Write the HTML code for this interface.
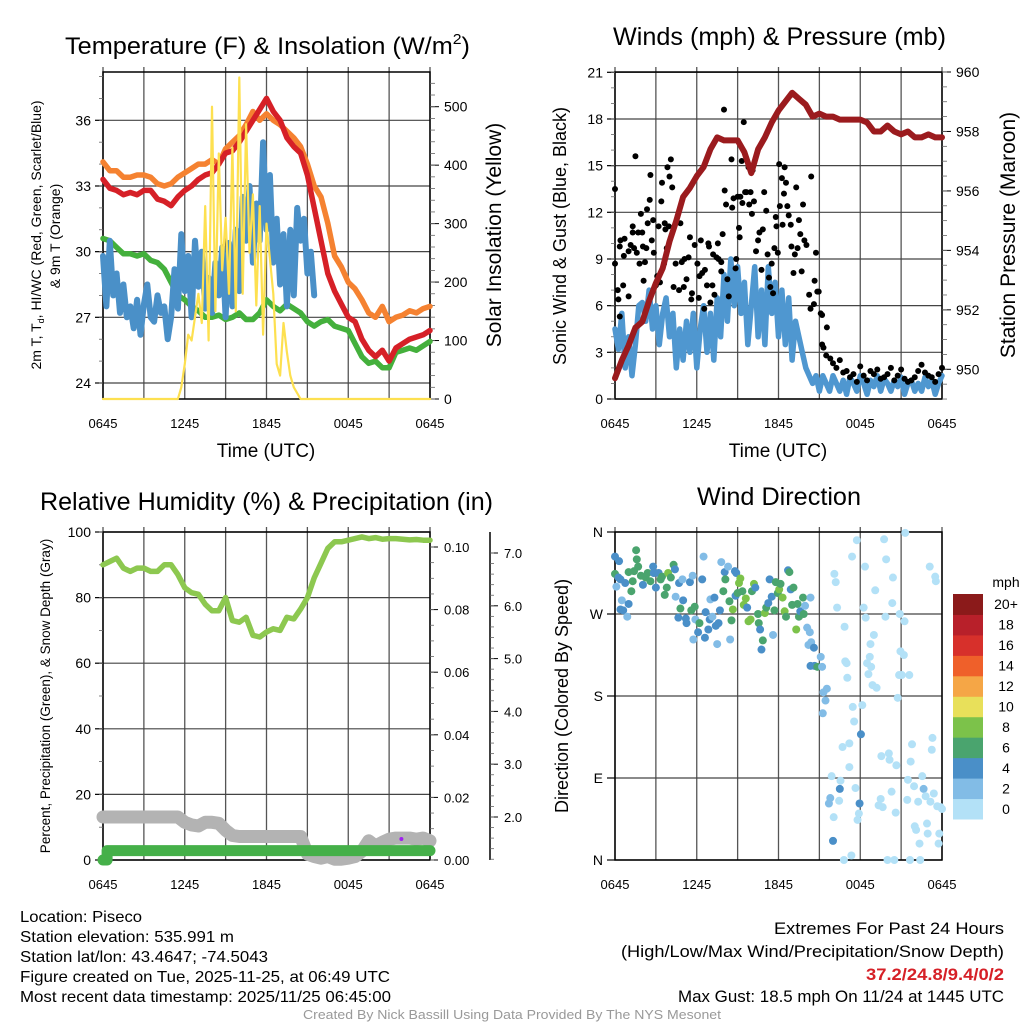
<!DOCTYPE html>
<html><head><meta charset="utf-8"><style>
html,body{margin:0;padding:0;background:#fff}
svg{display:block;font-family:"Liberation Sans",sans-serif}
</style></head><body>
<svg id="fig" width="1024" height="1024" viewBox="0 0 1024 1024" xmlns="http://www.w3.org/2000/svg">
<rect width="1024" height="1024" fill="#fff"/>
<g id="g"></g>
<text x="65" y="54" font-size="24" textLength="405" lengthAdjust="spacingAndGlyphs">Temperature (F) &amp; Insolation (W/m<tspan font-size="15" dy="-10">2</tspan><tspan dy="10">)</tspan></text>
<text x="613" y="45" font-size="25" textLength="333" lengthAdjust="spacingAndGlyphs">Winds (mph) &amp; Pressure (mb)</text>
<text x="40" y="510" font-size="25" textLength="453" lengthAdjust="spacingAndGlyphs">Relative Humidity (%) &amp; Precipitation (in)</text>
<text x="697" y="505" font-size="25" textLength="164" lengthAdjust="spacingAndGlyphs">Wind Direction</text>
<text x="266" y="457" font-size="19" text-anchor="middle">Time (UTC)</text>
<text x="778" y="457" font-size="19" text-anchor="middle">Time (UTC)</text>
<text transform="translate(41,235) rotate(-90)" font-size="14" text-anchor="middle">2m T, T<tspan font-size="9" dy="3">d</tspan><tspan dy="-3">, HI/WC (Red, Green, Scarlet/Blue)</tspan></text>
<text transform="translate(60,236) rotate(-90)" font-size="14" text-anchor="middle">&amp; 9m T (Orange)</text>
<text transform="translate(501,235) rotate(-90)" font-size="21" text-anchor="middle">Solar Insolation (Yellow)</text>
<text transform="translate(566,236) rotate(-90)" font-size="18" text-anchor="middle">Sonic Wind &amp; Gust (Blue, Black)</text>
<text transform="translate(1015,235) rotate(-90)" font-size="21" text-anchor="middle">Station Pressure (Maroon)</text>
<text transform="translate(50,696) rotate(-90)" font-size="13.5" text-anchor="middle">Percent, Precipitation (Green), &amp; Snow Depth (Gray)</text>
<text transform="translate(568,696) rotate(-90)" font-size="18" text-anchor="middle">Direction (Colored By Speed)</text>
<g font-size="16">
<text x="20" y="922" textLength="122" lengthAdjust="spacingAndGlyphs">Location: Piseco</text>
<text x="20" y="942" textLength="214" lengthAdjust="spacingAndGlyphs">Station elevation: 535.991 m</text>
<text x="20" y="962" textLength="248" lengthAdjust="spacingAndGlyphs">Station lat/lon: 43.4647; -74.5043</text>
<text x="20" y="982" textLength="370" lengthAdjust="spacingAndGlyphs">Figure created on Tue, 2025-11-25, at 06:49 UTC</text>
<text x="20" y="1002" textLength="371" lengthAdjust="spacingAndGlyphs">Most recent data timestamp: 2025/11/25 06:45:00</text>
</g>
<g font-size="17">
<text x="774" y="934" textLength="230" lengthAdjust="spacingAndGlyphs">Extremes For Past 24 Hours</text>
<text x="621" y="957" textLength="383" lengthAdjust="spacingAndGlyphs">(High/Low/Max Wind/Precipitation/Snow Depth)</text>
<text x="866" y="980" textLength="138" lengthAdjust="spacingAndGlyphs" font-weight="bold" fill="#d62027">37.2/24.8/9.4/0/2</text>
<text x="678" y="1002" textLength="326" lengthAdjust="spacingAndGlyphs">Max Gust: 18.5 mph On 11/24 at 1445 UTC</text>
</g>
<text x="303" y="1019" font-size="13" textLength="418" lengthAdjust="spacingAndGlyphs" fill="#999">Created By Nick Bassill Using Data Provided By The NYS Mesonet</text>
</svg>
<script>
// ---------- data ----------
const xTickLabels = ["0645","1245","1845","0045","0645"];
const tempTicks = [24,27,30,33,36];
const solarTicks = [0,100,200,300,400,500];
const windTicks = [0,3,6,9,12,15,18,21];
const presTicks = [950,952,954,956,958,960];
const rhTicks = [0,20,40,60,80,100];
const precipTicks = ["0.00","0.02","0.04","0.06","0.08","0.10"];
const snowTicks = ["2.0","3.0","4.0","5.0","6.0","7.0"];
const dirLabels = ["N","E","S","W","N"];
const speedBins = ["0","2","4","6","8","10","12","14","16","18","20+"];
const speedColors = ["#b3e1f7","#82bce6","#4a8fc8","#4aa46e","#7cc24a","#e8e05a","#f5a646","#ef602a","#d7302b","#b8202a","#8b1a1a"];

const tempT = [33.3,32.9,32.8,32.6,32.7,32.6,32.8,32.8,32.4,32.3,32.1,32.5,32.8,33.0,33.3,33.5,33.6,34.0,34.5,34.6,35.0,35.5,36.0,36.5,37.0,36.4,36.0,35.2,34.8,34.5,33.5,32.0,30.5,29.0,28.2,27.6,27.0,26.8,26.0,25.5,25.2,25.5,25.0,25.6,25.8,26.0,26.1,26.2,26.4];
const temp9m = [34.1,33.7,33.7,33.4,33.4,33.5,33.5,33.4,33.1,33.0,33.1,33.4,33.6,33.8,34.0,34.0,34.2,34.0,34.7,35.0,35.3,35.8,36.4,36.0,36.3,36.0,35.8,35.5,35.2,34.8,34.0,33.0,32.5,31.3,29.8,29.3,28.6,28.3,27.8,27.2,27.0,27.5,26.8,27.0,27.1,27.3,27.2,27.4,27.5];
const dewT = [30.6,30.5,30.2,29.9,29.9,29.8,29.9,29.6,29.5,29.2,28.6,28.0,27.8,27.5,27.3,27.0,27.0,27.1,26.9,27.0,27.2,26.9,26.9,27.2,27.8,27.5,27.3,27.6,27.4,27.2,26.8,26.6,26.8,26.9,26.6,26.5,26.4,25.8,25.2,24.9,25.0,24.7,24.7,25.4,25.5,25.6,25.5,25.7,25.9];
const windChill = [29.8,27.5,30.5,28.0,29.0,27.2,28.5,27.0,27.5,26.5,27.8,26.2,27.6,28.5,27.0,26.8,28.0,27.2,27.5,26.0,27.0,29.2,27.4,30.8,28.2,29.8,27.0,30.5,28.4,30.0,27.4,28.8,27.2,29.5,28.0,30.2,27.0,30.4,27.5,31.0,28.2,32.5,30.5,33.0,29.5,32.2,30.5,35.0,31.0,33.5,29.5,31.5,28.5,30.8,27.5,31.0,28.0,32.0,30.5,31.5,29.0,30.0,28.0];
const solarHours = [0,5.5,5.75,6,6.25,6.5,6.75,7,7.25,7.5,7.75,8,8.25,8.5,8.75,9,9.25,9.5,9.75,10,10.25,10.5,10.75,11,11.25,11.5,11.75,12,12.25,12.5,12.75,13,13.25,13.5,13.75,14,14.5,24];
const solarVals = [0,0,20,60,110,100,140,180,130,330,100,500,150,420,220,310,180,430,150,550,180,470,250,350,160,330,110,300,240,180,60,40,130,80,40,20,0,0];

const pressure = [949.7,950.3,950.8,951.4,951.6,952.3,952.9,953.4,954.3,955.0,955.8,956.1,956.5,956.8,957.4,957.8,957.7,957.7,957.7,957.3,956.6,957.4,957.8,958.3,958.7,959.0,959.3,959.1,958.9,958.5,958.6,958.5,958.5,958.4,958.4,958.4,958.4,958.3,958.0,958.0,958.2,958.0,957.9,958.0,957.8,957.8,957.9,957.8,957.8];
const sonicWind = [4.5,3.2,5.5,2.0,4.0,1.5,3.5,6.0,6.2, 5.0,7.0,4.5,6.0,3.5,5.5,6.5,4.0, 5.5,2.0,4.5,2.5,5.0,3.0,5.5,2.0, 4.5,6.0,3.0,5.5,2.5,6.5,4.0,8.0, 5.0,9.0,6.0,8.5,5.5,7.5,3.5,6.0, 8.5,4.0,7.0,3.5,8.5,5.5,7.5,4.0, 7.0,3.5,6.5,2.5,5.0,4.0,3.0,2.0, 1.5,1.0,1.5,0.5,1.5,1.0,0.5,1.5, 1.0,0.5,1.2,0.3,1.4,1.0,0.5,1.5, 1.0,0.3,1.2,0.8,1.5,0.5,1.3,1.0, 0.5,1.2,0.8,1.4,0.3,1.0,1.2,0.5, 1.0,0.5,1.4,0.8,1.2,0.3,1.0,1.5];
const gustHours = [0,0,0.2,0.25,0.35,0.35,0.4,0.7,0.6,0.65,1.0,1.0,1.15,1.3,1.3,1.4,1.5,1.6,1.7,1.8,1.9,2.0,2.05,2.1,2.2,2.3,2.35,2.4,2.55,2.6,2.7,2.8,2.85,3.0,3.1,3.2,3.3,3.4,3.45,3.6,3.65,3.7,3.8,3.85,3.95,4.0,4.1,4.2,4.3,4.45,4.7,4.8,4.9,5.05,5.1,5.25,5.4,5.5,5.6,5.65,5.85,6.05,6.15,6.2,6.3,6.4,6.55,6.6,6.75,6.85,6.9,7.0,7.15,7.2,7.3,7.45,7.55,7.6,7.8,7.8,7.9,8.0,8.05,8.15,8.25,8.35,8.55,8.6,8.7,8.85,8.9,9.0,9.1,9.15,9.2,9.3,9.35,9.45,9.55,9.65,9.8,9.85,9.95,10.05,10.1,10.2,10.35,10.5,10.6,10.75,10.85,10.95,11.1,11.2,11.3,11.4,11.5,11.6,11.7,11.8,11.85,11.95,12.05,12.1,12.25,12.3,12.4,12.45,12.55,12.65,12.75,12.9,12.95,13.1,13.2,13.3,13.4,13.5,13.6,13.7,13.8,13.9,14.05,14.25,14.35,14.4,14.6,14.65,14.75,14.85,14.95,15.1,15.2,15.55,15.2,15.3,15.5,15.8,16,16.25,16.5,16.75,17,17.25,17.5,17.75,18,18.25,18.5,18.75,19,19.25,19.5,19.75,20,20.25,20.5,20.75,21,21.25,21.5,21.75,22,22.25,22.5,22.75,23,23.25,23.5,23.75,24];
const gustVals = [13.5,8.7,7.0,6.4,5.3,9.8,10.2,10.3,7.3,9.2,9.5,6.6,9.9,10.7,11.1,9.7,15.6,9.4,10.7,8.7,11.9,10.7,9.8,7.6,8.8,9.7,12.2,11.3,12.8,14.4,10.2,11.5,9.4,7.3,7.9,11.1,7.5,12.7,13.9,8.7,11.3,10.9,9.7,14.9,11.1,14.3,15.4,13.6,7.2,8.7,7.0,11.3,8.8,7.2,9.0,7.7,9.1,10.4,6.4,6.8,9.9,8.7,6.5,7.9,10.2,8.1,5.8,8.3,7.3,10.0,9.8,6.2,7.3,9.3,6.7,9.1,10.0,9.0,8.2,8.8,10.6,18.6,13.4,12.5,7.7,6.6,15.4,12.3,12.9,8.4,9.0,13.0,11.0,10.4,13.0,15.3,12.6,17.8,13.3,13.3,14.9,12.5,13.3,11.9,14.7,12.7,9.5,10.2,10.7,8.3,10.9,13.3,12.1,9.3,7.8,7.2,8.7,6.8,9.7,11.7,11.1,9.4,15.1,12.4,14.2,11.2,13.2,14.9,13.9,12.4,11.8,11.2,9.8,8.1,9.3,13.6,9.7,11.5,10.6,8.2,12.5,10.2,9.9,6.7,5.8,14.3,6.1,7.6,9.4,6.9,6.9,5.5,5.4,4.6,3.5,3.3,2.8,2.6,2.3,2.0,2.5,1.7,1.8,1.4,1.6,1.1,2.1,1.5,1.2,1.8,1.6,1.9,1.3,1.4,1.6,2.0,1.2,1.5,1.9,1.3,1.1,1.2,1.4,1.8,2.2,1.7,1.5,1.4,1.1,1.6,2.0];

const dirHours = [0,0.3,0,0.25,0.1,0.4,0.5,0.4,0.6,0.9,1.0,0.75,1.0,1.2,1.3,1.55,1.6,1.7,1.4,1.9,2.05,2.25,2.4,2.6,2.8,2.85,3.0,3.2,3.35,3.45,3.65,3.8,3.9,4.1,4.3,4.4,4.45,4.7,4.8,4.65,4.95,5.0,5.2,5.25,5.5,5.6,5.7,5.75,5.85,5.9,6.1,6.2,6.4,6.5,6.6,6.65,6.85,6.95,7.0,7.15,7.3,7.4,7.5,7.6,7.7,7.8,7.95,8.05,8.1,8.3,8.4,8.55,8.45,8.65,8.8,8.9,8.85,9.0,9.1,9.2,9.35,9.45,9.6,9.7,9.8,9.95,10.05,10.2,10.3,10.5,10.55,10.65,10.75,10.85,11.0,11.1,11.25,11.35,11.5,11.6,11.7,11.8,11.95,12.05,12.15,12.3,12.45,12.55,12.7,12.8,12.9,13.1,13.0,13.3,13.4,13.5,13.6,13.8,13.85,13.95,14.1,14.3,14.35,14.2,14.4,14.6,14.35,14.65,14.85,15.1,15.2,15.3,15.55,15.45,15.25,15.7,15.8,15.9,16.05,16.0,16.1,16.2,16.3,16.45,16.55,16.5,16.7,16.8,16.85,16.9,17.0,17.05,17.2,17.2,17.35,17.4,17.45,17.55,17.65,17.75,17.8,17.9,17.95,18.05,18.15,18.25,18.35,18.4,18.5,18.6,18.7,18.75,18.8,18.9,19.0,19.1,19.2,19.35,19.5,19.55,19.65,19.75,19.85,19.9,20.0,20.1,20.15,20.3,20.35,20.4,20.5,20.6,20.65,20.75,20.85,20.9,20.95,21.05,21.2,21.25,21.3,21.45,21.5,21.6,21.65,21.7,21.8,21.95,22.0,22.1,22.25,22.35,22.4,22.55,22.65,22.8,22.9,22.95,23.1,23.15,23.25,23.3,23.4,23.5,23.55,23.65,23.75,23.8,23.9,24.0];
const dirDegrees = [333,328,314,310,300,308,285,275,274,267,281,304,316,295,306,340,330,322,317,312,302,310,315,306,322,315,299,315,308,311,291,299,315,310,324,319,289,304,276,266,308,285,265,260,305,274,312,242,278,264,250,260,308,333,244,272,253,264,286,267,288,257,237,260,274,327,295,316,308,322,284,263,242,275,317,315,290,293,304,309,295,280,287,277,262,264,295,303,299,270,260,253,231,241,271,277,282,308,289,247,274,305,293,297,303,288,273,267,318,316,297,299,280,253,281,267,273,288,270,279,255,250,288,236,239,233,213,213,212,223,212,184,188,175,161,62,68,92,47,21,314,305,277,65,87,78,124,0,256,218,216,200,128,102,5,333,168,152,79,351,44,51,62,138,170,277,322,266,216,204,223,237,212,192,247,296,189,60,67,114,58,352,267,330,0,117,110,75,282,310,0,52,104,178,203,270,229,203,225,262,359,66,88,203,0,108,127,81,37,33,64,18,0,92,78,70,40,29,322,64,121,134,73,311,306,59,18,29,58,56];
const dirSpeeds = [5,5,7,5,3,5,3,5,5,3,5,5,7,7,7,7,7,7,7,7,5,7,7,7,5,5,5,5,7,7,7,7,9,7,7,5,3,5,7,5,3,5,5,5,5,7,3,3,7,3,5,7,5,3,5,5,5,5,3,3,5,5,3,5,5,3,7,5,7,3,7,7,3,9,5,5,5,7,9,9,7,9,9,5,9,9,7,9,5,7,7,5,5,7,9,7,5,5,5,3,7,7,7,9,7,9,9,7,5,7,5,7,7,9,7,7,5,7,7,3,3,3,3,3,3,5,5,5,7,3,3,3,3,3,3,3,3,1,1,5,1,1,1,1,1,5,1,1,1,1,1,1,1,1,1,1,1,1,1,1,1,1,5,5,1,1,1,1,1,1,1,1,1,1,1,1,1,1,1,1,1,1,1,1,1,1,1,1,1,1,1,1,1,1,1,1,1,1,1,1,1,1,1,1,1,1,1,1,1,1,1,1,1,1,3,1,1,1,1,1,1,1,1,1,1,1,1,1,1,1,1];

const rhVals = [90,91,92,89,88,89,89,88,88,90,90,87,83,81.5,81,78,76,76,80,73,72.5,74,68.5,68,69.5,70.5,70,74,73.5,76.5,80,86,90.5,95,97,97,97.5,98,98.5,98,98.3,97.8,98,98,97.8,97.6,97.7,97.5,97.5];
const snowVals = [2.0,2.0,2.0,2.0,2.0,2.0,2.0,2.0,2.0,2.0,2.0,2.0,1.9,1.85,1.83,1.9,1.9,1.88,1.75,1.65,1.63,1.63,1.63,1.63,1.63,1.63,1.63,1.63,1.63,1.63,1.3,1.25,1.22,1.25,1.2,1.2,1.22,1.25,1.35,1.55,1.45,1.52,1.58,1.6,1.6,1.6,1.58,1.6,1.55];
const precipHours = [0,0.3,0.3,24];
const precipVals = [0,0,0.003,0.003];

// ---------- helpers ----------
const NS="http://www.w3.org/2000/svg";
const root=document.getElementById('g');
function mk(tag,parent,attrs){const e=document.createElementNS(NS,tag);for(const k in attrs)e.setAttribute(k,attrs[k]);(parent||root).appendChild(e);return e;}
function panel(x0,x1,y0,y1){return {x0,x1,y0,y1,x:t=>x0+(x1-x0)*t/24};}
function lin(d0,d1,p0,p1){return v=>p0+(v-d0)*(p1-p0)/(d1-d0);}
function pathD(xs,ys){return xs.map((x,i)=>(i?'L':'M')+x.toFixed(1)+','+ys[i].toFixed(1)).join('');}
function stepHours(n,step){const a=[];for(let i=0;i<n;i++)a.push(i*step);return a;}

function frame(P,name,hLines){
  const g=mk('g',root,{});
  
  
  for(let h=0;h<=24;h+=3){const x=P.x(h);
    mk('line',g,{x1:x,x2:x,y1:P.y0-5,y2:P.y1,stroke:'#555','stroke-width':1.3});}
  hLines.forEach(y=>mk('line',g,{x1:P.x0-8,x2:P.x1,y1:y,y2:y,stroke:'#444','stroke-width':1.2}));
  const b=mk('rect',g,{x:P.x0,y:P.y0,width:P.x1-P.x0,height:P.y1-P.y0,fill:'none',stroke:'#000','stroke-width':1.5});
  
  
  const tg=mk('g',root,{'font-size':13,'text-anchor':'middle'});
  
  
  xTickLabels.forEach((l,i)=>{const t=mk('text',tg,{x:P.x(i*6),y:P.y1+29});t.textContent=l;});
}
function ticksSide(x,ys,len,labels,name,anchor,dx,fs){
  const g=mk('g',root,{'font-size':fs||14,'text-anchor':anchor});
  
  
  ys.forEach((y,i)=>{mk('line',g,{x1:x,x2:x+len,y1:y,y2:y,stroke:'#000','stroke-width':1});
    if(labels&&labels[i]!=null){const t=mk('text',g,{x:x+dx,y:y+5});t.textContent=labels[i];}});
}
function minor(x,ys,len){ys.forEach(y=>mk('line',root,{x1:x,x2:x+len,y1:y,y2:y,stroke:'#666','stroke-width':0.8}));}

// ---------- Panel 1: temperature ----------
const P1=panel(103,430,72,399);
const ty=lin(24,36,383,120.3), sy=lin(0,500,399,106.7);
frame(P1,'temp',tempTicks.map(ty));
ticksSide(P1.x0,tempTicks.map(ty),-8,tempTicks,'temp-y-ticks','end',-12);
{const m=[];for(let v=24;v<=38;v++)m.push(ty(v));minor(P1.x0,m,-4);}
ticksSide(P1.x1,solarTicks.map(sy),9,solarTicks,'solar-y-ticks','start',14);
{const m=[];for(let v=0;v<=550;v+=20)m.push(sy(v));minor(P1.x1,m,5);}
const h30=stepHours(49,0.5), h15=stepHours(63,0.25);
function series(P,hrs,vals,yf,color,w,name){
  const p=mk('path',root,{d:pathD(hrs.map(P.x),vals.map(yf)),fill:'none',stroke:color,'stroke-width':w,'stroke-linejoin':'round','stroke-linecap':'round'});
  
  
  return p;}
series(P1,h30,temp9m,ty,'#f58231',5.5,'temp-9m-line');
series(P1,h30,dewT,ty,'#44b03c',5.5,'dewpoint-line');
series(P1,h15,windChill,ty,'#4a90c8',6,'windchill-line');
series(P1,h30,tempT,ty,'#d62027',5.5,'temp-2m-line');
series(P1,solarHours,solarVals,sy,'#fde050',2.2,'solar-line');

// ---------- Panel 2: winds ----------
const P2=panel(615,942,72,399);
const wy=lin(0,21,399,72.3), py=lin(950,960,369.3,72);
frame(P2,'wind',windTicks.map(wy));
ticksSide(P2.x0,windTicks.map(wy),-8,windTicks,'wind-y-ticks','end',-12);
{const m=[];for(let v=0;v<=21;v++)m.push(wy(v));minor(P2.x0,m,-4);}
ticksSide(P2.x1,presTicks.map(py),9,presTicks,'pressure-y-ticks','start',14);
{const m=[];for(let v=949;v<=960;v+=0.5)m.push(py(v));minor(P2.x1,m,5);}
series(P2,stepHours(97,0.25),sonicWind,wy,'#4f97d0',5.5,'sonic-wind-line');
{const g=mk('g',root,{});


gustHours.forEach((h,i)=>{const c=mk('circle',g,{cx:P2.x(h),cy:wy(gustVals[i]),r:3,fill:'#000'});

});}
series(P2,h30,pressure,py,'#9b1b1e',6,'pressure-line');

// ---------- Panel 3: RH ----------
const P3=panel(103,430,532,860);
const ry=lin(0,100,860,532), pcy=lin(0,0.1,860,547), sny=lin(2,7,817,553);
frame(P3,'rh',rhTicks.map(ry));
ticksSide(P3.x0,rhTicks.map(ry),-8,rhTicks,'rh-y-ticks','end',-12);
{const m=[];for(let v=0;v<=100;v+=10)m.push(ry(v));minor(P3.x0,m,-4);}
ticksSide(P3.x1,[0,0.02,0.04,0.06,0.08,0.1].map(pcy),8,precipTicks,'precip-y-ticks','start',14,13);
{const m=[];for(let v=0;v<=0.104;v+=0.005)m.push(pcy(v));minor(P3.x1,m,4);}
{const a=mk('line',root,{x1:490,x2:490,y1:532,y2:860,stroke:'#000','stroke-width':1.5});

}
ticksSide(490,[2,3,4,5,6,7].map(sny),8,snowTicks,'snow-y-ticks','start',14,13);
{const m=[];for(let v=1.2;v<=7.2;v+=0.2)m.push(sny(v));minor(490,m,4);}
series(P3,h30,snowVals,sny,'#b3b3b3',13,'snow-depth-line');
series(P3,precipHours,precipVals,pcy,'#45b049',11,'precip-line');
series(P3,h30,rhVals,ry,'#8dc850',5.5,'rh-line');
{const d=mk('circle',root,{cx:P3.x(21.9),cy:839,r:2,fill:'#a020f0'});

}

// ---------- Panel 4: wind direction ----------
const P4=panel(615,942,532,860);
const dy=lin(0,360,860,532);
frame(P4,'direction',[90,180,270,360,0].map(dy));
ticksSide(P4.x0,[0,90,180,270,360].map(dy),-8,dirLabels,'direction-y-ticks','end',-12);
function spdColor(s){let i=Math.floor(s/2);if(i>10)i=10;return speedColors[i];}
{const g=mk('g',root,{});


dirHours.forEach((h,i)=>{const c=mk('circle',g,{cx:P4.x(h),cy:dy(dirDegrees[i]),r:4,fill:spdColor(dirSpeeds[i])});

});}
// colorbar
{const g=mk('g',root,{'font-size':14,'text-anchor':'middle'});


const top=594,bh=(819-594)/11;
speedBins.forEach((l,i)=>{const y=top+(10-i)*bh;
 const r=mk('rect',g,{x:953,y:y,width:30,height:bh+0.5,fill:speedColors[i]});
 
 
 const t=mk('text',g,{x:1006,y:y+bh/2+5});t.textContent=l;});
const u=mk('text',g,{x:1006,y:587});u.textContent='mph';

}
</script>
</body></html>
